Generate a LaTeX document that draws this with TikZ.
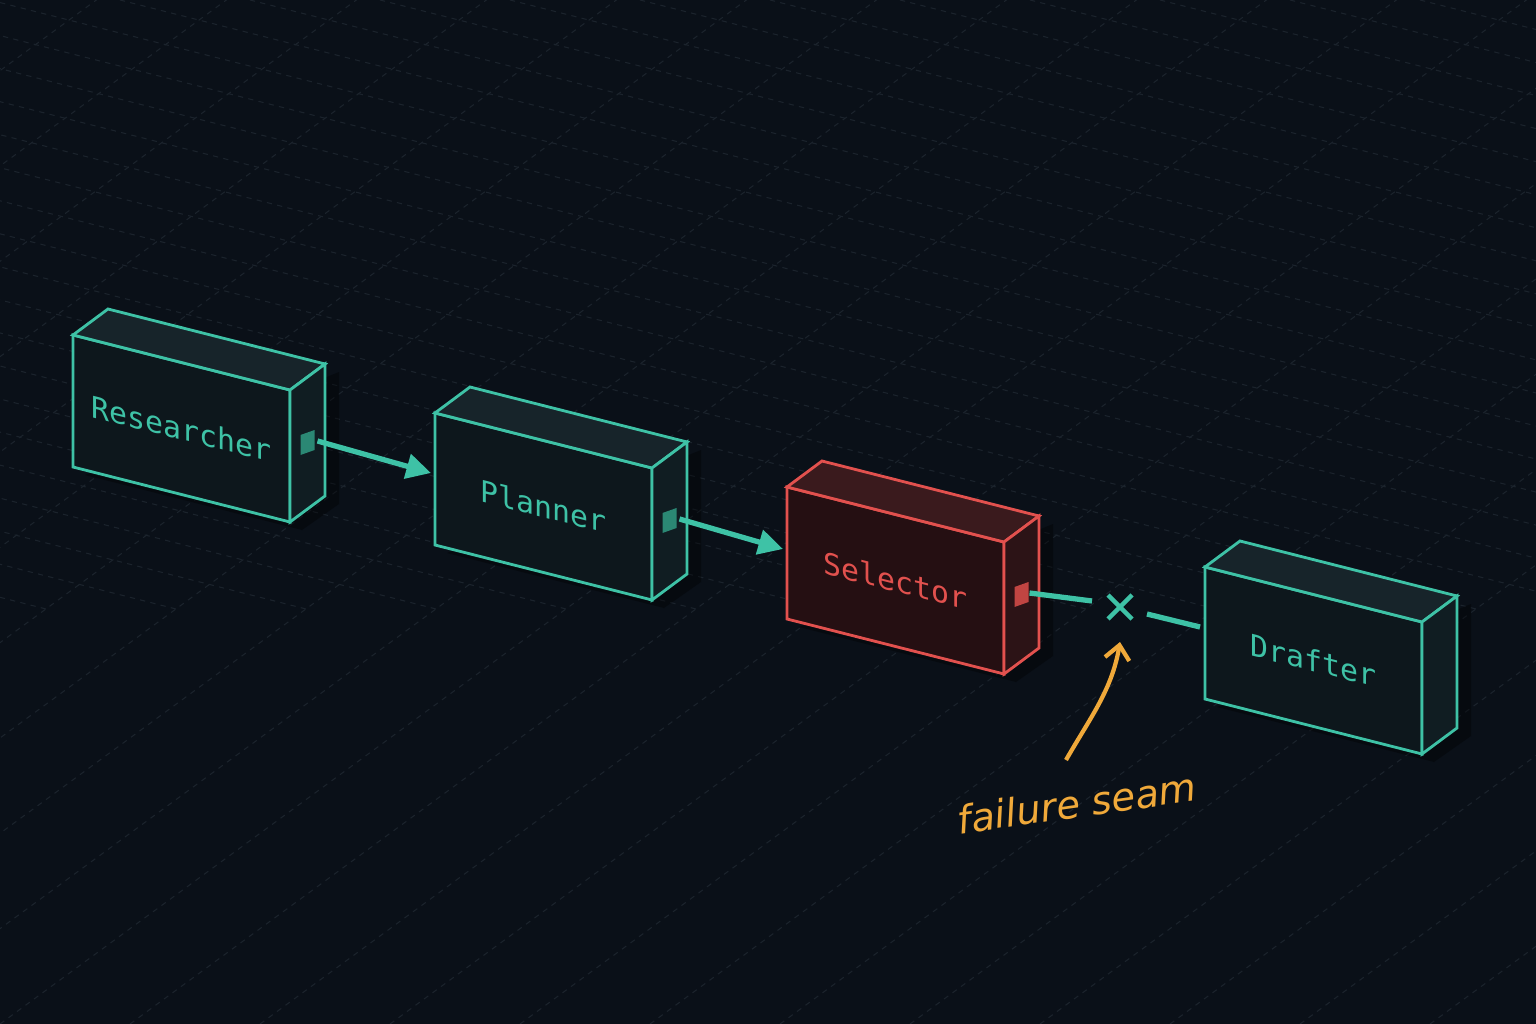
\documentclass[tikz,border=0pt]{standalone}
\usepackage{fontspec}
\newfontfamily\monofont{DejaVu Sans Mono}
\newfontfamily\handfont{DejaVu Sans}
\usetikzlibrary{arrows.meta,calc}
\definecolor{bg}{HTML}{0A1018}
\definecolor{teal}{HTML}{3EC2A6}
\definecolor{redc}{HTML}{E2514E}
\definecolor{orangec}{HTML}{F0A93A}
\definecolor{gridc}{HTML}{1B232C}
\definecolor{tfront}{HTML}{0D171C}
\definecolor{ttop}{HTML}{17242A}
\definecolor{tside}{HTML}{101D22}
\definecolor{rfront}{HTML}{250F12}
\definecolor{rtop}{HTML}{3A1A1D}
\definecolor{rside}{HTML}{2C1316}
\tikzset{
  edge/.style={line width=1.6pt},
  lbl/.style={font=\monofont\fontsize{17}{17}\selectfont, yslant=-0.25},
  flow/.style={teal, line width=3pt, -{Triangle[length=14pt,width=14pt]}},
  seam/.style={teal, line width=3pt},
}
% \ibox{name}{x}{y}{label}{line}{front}{top}{side}{port}
\newcommand{\ibox}[9]{%
  \coordinate (#1-a) at (#2,#3);
  \coordinate (#1-b) at ($(#1-a)+(217,-55)$);
  \coordinate (#1-c) at ($(#1-b)+(0,-132)$);
  \coordinate (#1-d) at ($(#1-a)+(0,-132)$);
  \coordinate (#1-e) at ($(#1-a)+(35,26)$);
  \coordinate (#1-f) at ($(#1-b)+(35,26)$);
  \coordinate (#1-g) at ($(#1-c)+(35,26)$);
  \fill[black, opacity=0.35] ($(#1-d)+(12,-8)$) -- ($(#1-c)+(12,-8)$) -- ($(#1-g)+(14,-8)$) -- ($(#1-f)+(14,-8)$) -- cycle;
  \filldraw[edge, draw=#5, fill=#6] (#1-a) -- (#1-b) -- (#1-c) -- (#1-d) -- cycle;
  \filldraw[edge, draw=#5, fill=#7] (#1-a) -- (#1-e) -- (#1-f) -- (#1-b) -- cycle;
  \filldraw[edge, draw=#5, fill=#8] (#1-b) -- (#1-f) -- (#1-g) -- (#1-c) -- cycle;
  \coordinate (#1-pc) at ($(#1-b)!0.5!(#1-g)$);
  \fill[#9] ($(#1-pc)+(-7,-12)$) -- ($(#1-pc)+(7,-7)$) -- ($(#1-pc)+(7,13)$) -- ($(#1-pc)+(-7,8)$) -- cycle;
  \node[lbl, text=#5] (#1) at ($(#1-a)!0.5!(#1-c)$) {#4};
}
\begin{document}
\begin{tikzpicture}[x=0.02cm,y=0.02cm]
\fill[bg] (0,0) rectangle (1536,-1024);
\useasboundingbox (0,0) rectangle (1536,-1024);
\begin{scope}
\clip (0,0) rectangle (1536,-1024);
\foreach \i in {-30,...,30}{
  \draw[gridc, dashed, line width=0.6pt] (\i*130-400,0) -- ++(2400,-610);
  \draw[gridc, dashed, line width=0.6pt] (\i*130,-1024) -- ++(1500,1100);
}
\end{scope}
\ibox{res}{73}{-335}{Researcher}{teal}{tfront}{ttop}{tside}{teal!70!black}
\ibox{pla}{435}{-413}{Planner}{teal}{tfront}{ttop}{tside}{teal!70!black}
\ibox{sel}{787}{-487}{Selector}{redc}{rfront}{rtop}{rside}{redc!85!black}
\ibox{dra}{1205}{-567}{Drafter}{teal}{tfront}{ttop}{tside}{tside}
\coordinate (p1) at ($(res-pc)+(10,2)$);
\coordinate (t1) at (431,-473);
\draw[flow] (p1) -- (t1);
\coordinate (p2) at ($(pla-pc)+(10,2)$);
\coordinate (t2) at (783,-549);
\draw[flow] (p2) -- (t2);
\coordinate (x) at (1120,-607);
\coordinate (s1) at ($(sel-pc)+(8,2)$);
\coordinate (s2) at (1092,-601);
\coordinate (s3) at (1147,-614);
\coordinate (s4) at (1200,-627);
\draw[seam] (s1) -- (s2);
\draw[seam] (s3) -- (s4);
\draw[teal, line width=2.6pt] ($(x)+(-12,-12)$) -- ($(x)+(12,12)$) ($(x)+(-12,12)$) -- ($(x)+(12,-12)$);
\node[font=\handfont\itshape\fontsize{22}{22}\selectfont, text=orangec, rotate=8] (fs) at (1077,-803) {failure seam};
\coordinate (fa) at (1066,-760);
\coordinate (fb) at (1120,-642);
\draw[orangec, line width=2.4pt, -{Straight Barb[length=8pt,width=14pt]}] (fa) .. controls (1090,-718) and (1112,-690) .. (fb);
\end{tikzpicture}
\end{document}
